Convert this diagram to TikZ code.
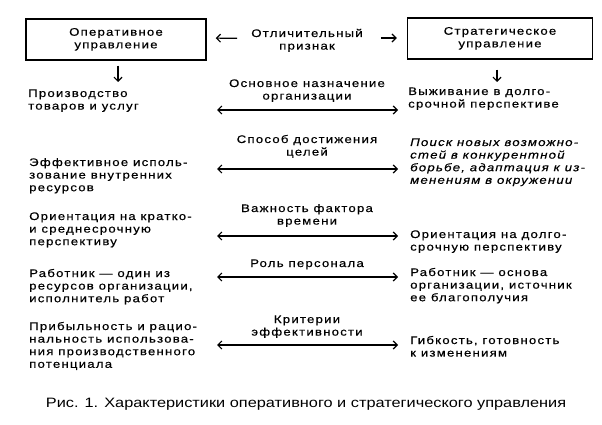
\documentclass[tikz,border=0pt]{standalone}
\usepackage{fontspec}
\setmainfont[FakeStretch=1.2,LetterSpace=11,FakeBold=0.4]{Liberation Sans}
\newfontfamily\capfont[FakeStretch=1.2]{Liberation Sans}
\usepackage{tikz}
\usetikzlibrary{arrows.meta}

\tikzset{
  headbox/.style={draw,line width=1.4pt,minimum width=180pt,minimum height=41pt,inner sep=0pt},
  sidetext/.style={anchor=base west,inner sep=0pt},
  signtext/.style={anchor=base,inner sep=0pt},
  link/.style={<->,line width=1.2pt},
  pointer/.style={->,line width=1.2pt}
}

\begin{document}
\begin{tikzpicture}[x=1pt,y=-1pt,>={Straight Barb[length=4pt,width=8pt]}]
\fontsize{11}{12.6}\selectfont
\useasboundingbox (0,0) rectangle (602,425);
\node (opbox) at (116,39.5) [headbox] {
\begin{tabular}{@{}c@{}}
Оперативное \\
управление
\end{tabular}
};
\node (stbox) at (500,38.5) [headbox,minimum width=185pt] {
\begin{tabular}{@{}c@{}}
Стратегическое \\
управление
\end{tabular}
};
\node (sign) at (307,37) [signtext] {
\begin{tabular}[t]{@{}c@{}}
Отличительный \\
признак
\end{tabular}
};

% row 1
\node (r1l) at (28,97) [sidetext] {
\begin{tabular}[t]{@{}l@{}}
Производство \\
товаров и услуг
\end{tabular}
};
\node (r1c) at (307,87) [signtext] {
\begin{tabular}[t]{@{}c@{}}
Основное назначение \\
организации
\end{tabular}
};
\node (r1r) at (408,95) [sidetext] {
\begin{tabular}[t]{@{}l@{}}
Выживание в долго- \\
срочной перспективе
\end{tabular}
};

% row 2
\node (r2l) at (29,166) [sidetext] {
\begin{tabular}[t]{@{}l@{}}
Эффективное исполь- \\
зование внутренних \\
ресурсов
\end{tabular}
};
\node (r2c) at (307,143) [signtext] {
\begin{tabular}[t]{@{}c@{}}
Способ достижения \\
целей
\end{tabular}
};
\node (r2r) at (410,146) [sidetext] {\itshape
\begin{tabular}[t]{@{}l@{}}
Поиск новых возможно- \\
стей в конкурентной \\
борьбе, адаптация к из- \\
менениям в окружении
\end{tabular}
};

% row 3
\node (r3l) at (29,220) [sidetext] {
\begin{tabular}[t]{@{}l@{}}
Ориентация на кратко- \\
и среднесрочную \\
перспективу
\end{tabular}
};
\node (r3c) at (307,212) [signtext] {
\begin{tabular}[t]{@{}c@{}}
Важность фактора \\
времени
\end{tabular}
};
\node (r3r) at (410,238) [sidetext] {
\begin{tabular}[t]{@{}l@{}}
Ориентация на долго- \\
срочную перспективу
\end{tabular}
};

% row 4
\node (r4l) at (29,277) [sidetext] {
\begin{tabular}[t]{@{}l@{}}
Работник --- один из \\
ресурсов организации, \\
исполнитель работ
\end{tabular}
};
\node (r4c) at (307,267) [signtext] {Роль персонала};
\node (r4r) at (410,276) [sidetext] {
\begin{tabular}[t]{@{}l@{}}
Работник --- основа \\
организации, источник \\
ее благополучия
\end{tabular}
};

% row 5
\node (r5l) at (29,330) [sidetext] {
\begin{tabular}[t]{@{}l@{}}
Прибыльность и рацио- \\
нальность использова- \\
ния производственного \\
потенциала
\end{tabular}
};
\node (r5c) at (307,323) [signtext] {
\begin{tabular}[t]{@{}c@{}}
Критерии \\
эффективности
\end{tabular}
};
\node (r5r) at (410,344) [sidetext] {
\begin{tabular}[t]{@{}l@{}}
Гибкость, готовность \\
к изменениям
\end{tabular}
};

\node (caption) at (306,407) [signtext] {\capfont\fontsize{13.6}{15}\selectfont
Рис. 1. Характеристики оперативного и стратегического управления};

\coordinate (a1w) at (217,110);
\coordinate (a1e) at (398,110);
\coordinate (a2w) at (217,169);
\coordinate (a2e) at (398,169);
\coordinate (a3w) at (217,236);
\coordinate (a3e) at (398,236);
\coordinate (a4w) at (217,277);
\coordinate (a4e) at (398,277);
\coordinate (a5w) at (217,345);
\coordinate (a5e) at (398,345);

\draw [pointer,shorten <=14pt,shorten >=9pt] (sign.west |- opbox.center) ++(0,-1) -- (opbox.east |- 0,38);
\draw [pointer,shorten <=18pt,shorten >=10pt] (sign.east |- 0,38) -- (stbox.west |- 0,38);

\draw [pointer,shorten <=5pt] (opbox.south -| 118,0) -- (118,82);
\draw [pointer,shorten <=10pt] (stbox.south -| 497,0) -- (497,82);

\draw [link] (a1w) -- (a1e);
\draw [link] (a2w) -- (a2e);
\draw [link] (a3w) -- (a3e);
\draw [link] (a4w) -- (a4e);
\draw [link] (a5w) -- (a5e);
\end{tikzpicture}
\end{document}
